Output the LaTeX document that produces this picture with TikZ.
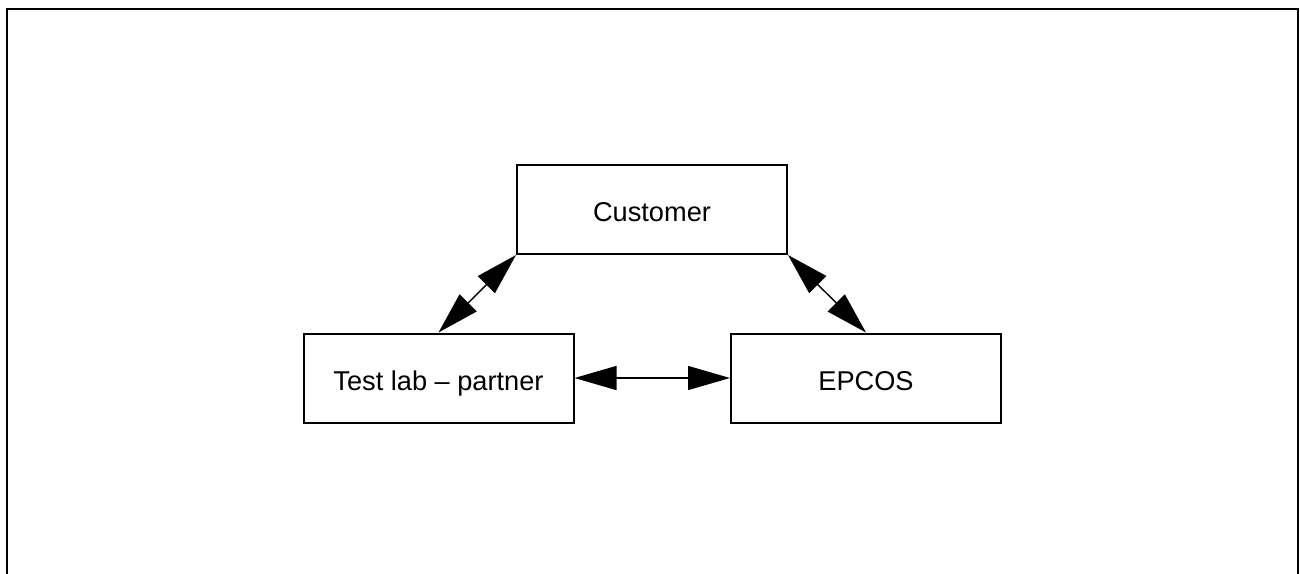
\documentclass[tikz,border=0pt]{standalone}
\usepackage{fontspec}
\setmainfont{Liberation Sans}
\usetikzlibrary{arrows.meta}
\begin{document}
\begin{tikzpicture}[x=0.5pt,y=-0.5pt,
  party/.style={draw,line width=1pt,minimum width=135pt,minimum height=44.5pt,inner sep=0pt,text height=12.2pt,text depth=0pt,font=\fontsize{13.6}{16}\selectfont},
  link/.style={line width=0.7pt,{Triangle[length=21pt,width=12pt]}-{Triangle[length=21pt,width=12pt]}}]
\useasboundingbox (0,0) rectangle (1300,573);
\draw[line width=1pt] (7,650) -- (7,9) -- (1298,9) -- (1298,650);

\node[party] (customer) at (652,209.5) {Customer};
\node[party] (testlab) at (438.5,378) {Test lab -- partner};
\node[party] (epcos) at (866,378) {EPCOS};

\draw[link] (customer.south west) -- (testlab.north);
\draw[link] (customer.south east) -- (epcos.north);
\draw[link] (testlab) -- (epcos);
\end{tikzpicture}
\end{document}
